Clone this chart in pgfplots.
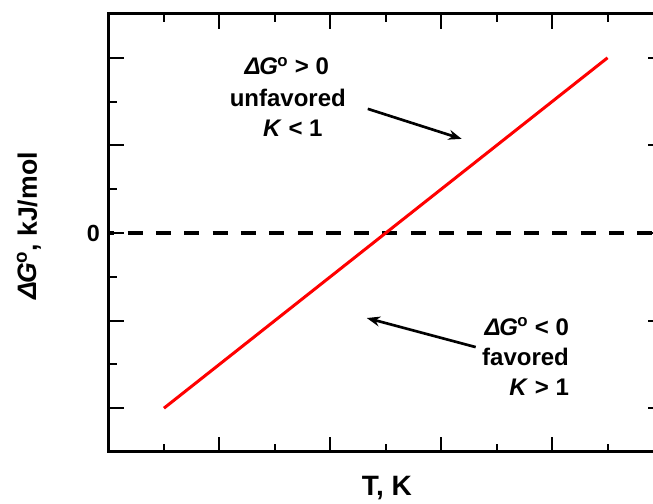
\documentclass[border=0pt]{standalone}
\usepackage{fontspec}
\setmainfont{Liberation Sans}
\usepackage{pgfplots}
\pgfplotsset{compat=1.18}
\usetikzlibrary{arrows.meta}

% standard free energy symbol
\newcommand{\dG}{\textit{Δ}\kern-0.06em\textit{G}\kern-0.03em\textsuperscript{o}}

\begin{document}
\begin{tikzpicture}
\begin{axis}[
  name=ax,
  scale only axis,
  width=415.9pt, height=328.5pt,
  xmin=0, xmax=5, ymin=-2.5, ymax=2.5,
  axis line style={line width=2.25pt},
  xtick={0,1,2,3,4,5}, xticklabels={},
  ytick={-2,-1,0,1,2}, yticklabels={,,0,,},
  minor x tick num=1, minor y tick num=1,
  tick align=inside, tick pos=both,
  major tick length=11.25pt, minor tick length=6pt,
  tick style={black, line width=1.5pt},
  /pgf/number format/assume math mode=true,
  ticklabel style={font=\bfseries\fontsize{17.5}{17.5}\selectfont},
  yticklabel style={xshift=-3pt},
  xlabel={T, K},
  ylabel={\dG, kJ/mol},
  xlabel style={font=\bfseries\fontsize{21}{21}\selectfont, at={(rel axis cs:0.502,-0.1005)}, anchor=base},
  ylabel style={font=\bfseries\fontsize{20}{20}\selectfont, at={(rel axis cs:-0.1434,0.516)}, anchor=center, rotate=0},
  clip=false,
]
% zero line
\addplot[black, line width=2.5pt, dash pattern=on 11.25pt off 10pt, dash phase=7pt]
  coordinates {(0,0) (5,0)};
% free energy versus temperature
\addplot[red, line width=2.25pt] coordinates {(0.5,-2) (4.5,2)};

% annotations
\begin{scope}[font=\bfseries\fontsize{18}{18}\selectfont]
\node[anchor=base] at (axis cs:1.608,1.806) {\dG\ > 0};
\node[anchor=base] at (axis cs:1.617,1.440) {unfavored};
\node[anchor=base] at (axis cs:1.662,1.097) {\textit{K} < 1};
\node[anchor=base east] at (axis cs:4.194,-1.166) {\dG\ < 0};
\node[anchor=base east] at (axis cs:4.194,-1.509) {favored};
\node[anchor=base east] at (axis cs:4.194,-1.851) {\textit{K} > 1};
\end{scope}
\draw[line width=2pt, -{Stealth[length=10pt,width=7.5pt]}] (axis cs:2.338,1.417) -- (axis cs:3.185,1.074);
\draw[line width=2pt, -{Stealth[length=10pt,width=7.5pt]}] (axis cs:3.311,-1.303) -- (axis cs:2.329,-0.971);
\end{axis}
\pgfresetboundingbox
\path[use as bounding box] ([shift={(-81.4pt,-39pt)}]ax.south west) rectangle ([shift={(408.4pt,339pt)}]ax.south west);
\end{tikzpicture}
\end{document}
